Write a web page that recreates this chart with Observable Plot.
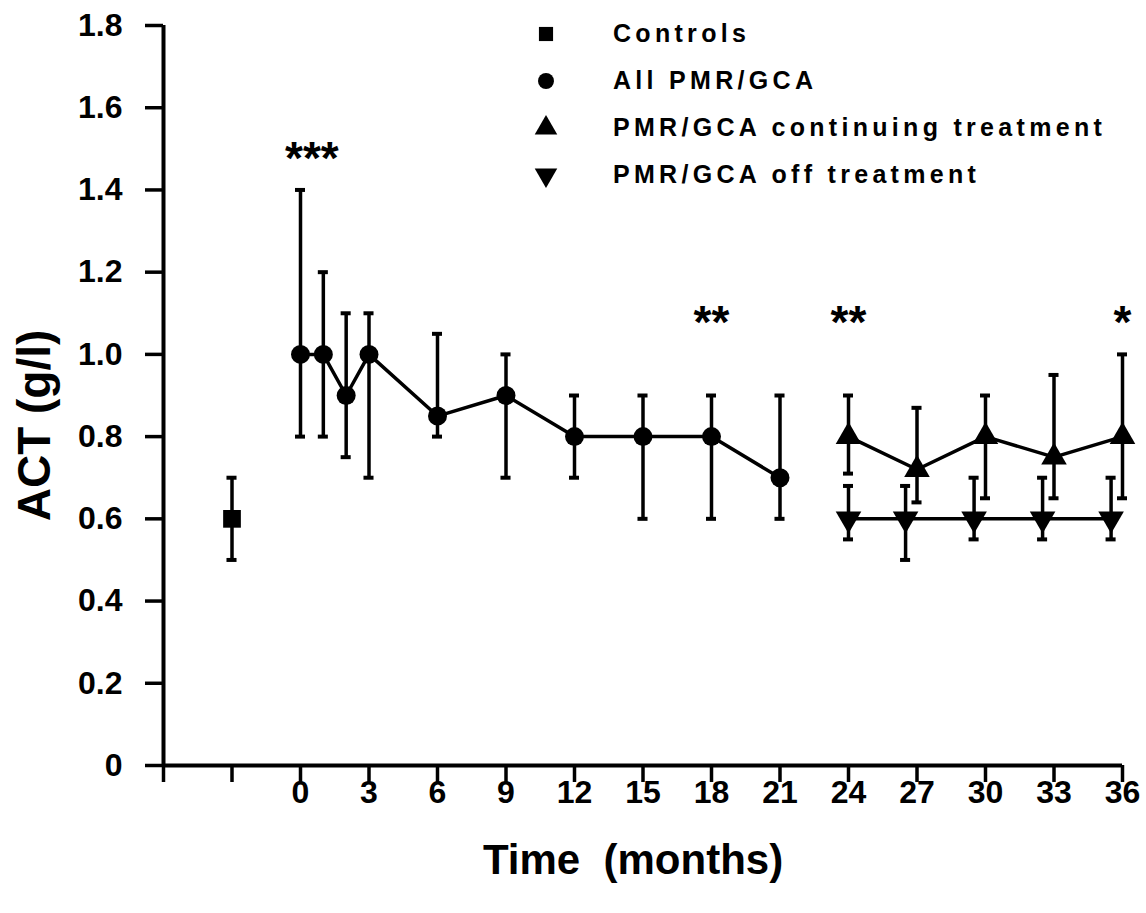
<!DOCTYPE html>
<html>
<head>
<meta charset="utf-8">
<script src="https://cdn.jsdelivr.net/npm/d3@7"></script>
<script src="https://cdn.jsdelivr.net/npm/@observablehq/plot@0.6"></script>
<style>
  html, body { margin: 0; padding: 0; background: #fff; }
  #wrap { position: relative; width: 1146px; height: 913px; }
  #legend { position: absolute; left: 533px; top: 10px; font-family: "Liberation Sans", Arial, sans-serif; font-weight: bold; font-size: 25px; letter-spacing: 4.3px; color: #000; }
  #legend .row { display: flex; align-items: center; height: 47px; }
  #legend svg { width: 26px; height: 26px; margin-right: 54px; }
  #wrap g[aria-label="x-axis tick"], #wrap g[aria-label="y-axis tick"] { stroke-width: 3.5px; }
</style>
</head>
<body>
<div id="wrap"><div id="legend"></div></div>
<script>
// ---- data ----
const controlMonth = [-3];
const controlMean = [0.6];
const controlLo = [0.5];
const controlHi = [0.7];

const allMonths = [0, 1, 2, 3, 6, 9, 12, 15, 18, 21];
const allMean   = [1.0, 1.0, 0.9, 1.0, 0.85, 0.9, 0.8, 0.8, 0.8, 0.7];
const allLo     = [0.8, 0.8, 0.75, 0.7, 0.8, 0.7, 0.7, 0.6, 0.6, 0.6];
const allHi     = [1.4, 1.2, 1.1, 1.1, 1.05, 1.0, 0.9, 0.9, 0.9, 0.9];

const contMonths = [24, 27, 30, 33, 36];
const contMean   = [0.8, 0.72, 0.8, 0.75, 0.8];
const contLo     = [0.71, 0.64, 0.65, 0.65, 0.65];
const contHi     = [0.9, 0.87, 0.9, 0.95, 1.0];

const offMonths = [24, 26.5, 29.5, 32.5, 35.5];
const offMean   = [0.6, 0.6, 0.6, 0.6, 0.6];
const offLo     = [0.55, 0.5, 0.55, 0.55, 0.55];
const offHi     = [0.68, 0.68, 0.7, 0.7, 0.7];

const starLabels = ["***", "**", "**", "*"];
const starMonths = [0.5, 18, 24, 36];
const starValues = [1.5, 1.1, 1.1, 1.1];

const xTicks = [-6, -3, 0, 3, 6, 9, 12, 15, 18, 21, 24, 27, 30, 33, 36];
const yTicks = [0, 0.2, 0.4, 0.6, 0.8, 1.0, 1.2, 1.4, 1.6, 1.8];
const yTickLabels = ["0", "0.2", "0.4", "0.6", "0.8", "1.0", "1.2", "1.4", "1.6", "1.8"];

const legendLabels = ["Controls", "All PMR/GCA", "PMR/GCA continuing treatment", "PMR/GCA off treatment"];
const xTitle = "Time  (months)";
const yTitle = "ACT (g/l)";

// ---- tables ----
const mk = (xs, m, lo, hi) => xs.map((x, i) => ({x, m: m[i], lo: lo[i], hi: hi[i]}));
const controls = mk(controlMonth, controlMean, controlLo, controlHi);
const allG = mk(allMonths, allMean, allLo, allHi);
const contG = mk(contMonths, contMean, contLo, contHi);
const offG = mk(offMonths, offMean, offLo, offHi);
const everything = [...controls, ...allG, ...contG, ...offG];
const stars = starLabels.map((t, i) => ({t, x: starMonths[i], y: starValues[i]}));

const invTriangle = {
  draw(context, size) {
    const y = -Math.sqrt(size / (Math.sqrt(3) * 3));
    context.moveTo(0, -2 * y);
    context.lineTo(-Math.sqrt(3) * y, y);
    context.lineTo(Math.sqrt(3) * y, y);
    context.closePath();
  }
};

const capHalf = 0.22;
const chart = Plot.plot({
  width: 1146,
  height: 913,
  marginLeft: 163,
  marginRight: 24,
  marginTop: 25,
  marginBottom: 148,
  x: {domain: [-6, 36]},
  y: {domain: [0, 1.8]},
  style: {fontFamily: "Liberation Sans, Arial, sans-serif", color: "#000", background: "#fff"},
  marks: [
    Plot.axisX({ticks: xTicks, tickSize: 17, tickPadding: -2, strokeWidth: 3.5,
      tickFormat: d => d < 0 ? "" : String(d), label: null,
      fontSize: 32, fontWeight: "bold"}),
    Plot.axisY({ticks: yTicks, tickSize: 18, tickPadding: 23, strokeWidth: 3.5,
      tickFormat: (d, i) => yTickLabels[i], label: null,
      fontSize: 32, fontWeight: "bold"}),
    Plot.ruleY([0], {strokeWidth: 4}),
    Plot.ruleX([-6], {y1: 0, y2: 1.8, strokeWidth: 4}),
    // error bars
    Plot.ruleX(everything, {x: "x", y1: "lo", y2: "hi", strokeWidth: 3.5}),
    Plot.ruleY(everything, {y: "hi", x1: d => d.x - capHalf, x2: d => d.x + capHalf, strokeWidth: 4}),
    Plot.ruleY(everything, {y: "lo", x1: d => d.x - capHalf, x2: d => d.x + capHalf, strokeWidth: 4}),
    // lines
    Plot.line(allG, {x: "x", y: "m", strokeWidth: 3.5}),
    Plot.line(contG, {x: "x", y: "m", strokeWidth: 3.5}),
    Plot.line(offG, {x: "x", y: "m", strokeWidth: 3.5}),
    // symbols
    Plot.dot(controls, {x: "x", y: "m", symbol: "square", r: 10, fill: "#000"}),
    Plot.dot(allG, {x: "x", y: "m", symbol: "circle", r: 9.5, fill: "#000"}),
    Plot.dot(contG, {x: "x", y: "m", symbol: "triangle", r: 9.5, fill: "#000"}),
    Plot.dot(offG, {x: "x", y: "m", symbol: invTriangle, r: 9.5, fill: "#000"}),
    // significance stars
    Plot.text(stars, {x: "x", y: "y", text: "t", fontSize: 46, fontWeight: "bold", dy: 10, letterSpacing: 7}),
    // axis titles
    Plot.text([yTitle], {frameAnchor: "left", dx: -128, dy: 30, rotate: -90, textAnchor: "middle", fontSize: 46, fontWeight: "bold"}),
    Plot.text([xTitle], {frameAnchor: "bottom", dx: -10, dy: 108, fontSize: 42, fontWeight: "bold", textAnchor: "middle"})
  ]
});
document.getElementById("wrap").prepend(chart);

// legend
const symbols = [d3.symbolSquare, d3.symbolCircle, d3.symbolTriangle, invTriangle];
const sizes = [200, 200, 220, 220];
const legend = d3.select("#legend");
legendLabels.forEach((lab, i) => {
  const row = legend.append("div").attr("class", "row");
  const svg = row.append("svg").attr("viewBox", "-13 -13 26 26");
  svg.append("path").attr("d", d3.symbol(symbols[i], sizes[i])()).attr("fill", "#000");
  row.append("span").text(lab);
});
</script>
</body>
</html>
